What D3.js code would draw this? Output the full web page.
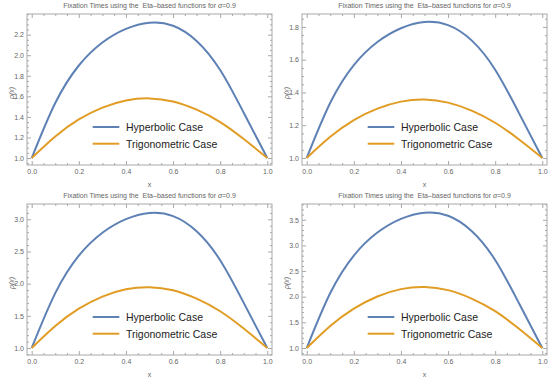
<!DOCTYPE html>
<html>
<head>
<meta charset="utf-8">
<script src="https://cdn.jsdelivr.net/npm/d3@7"></script>
<style>
  body { margin: 0; background: #fff; }
  text { font-family: "Liberation Sans", Arial, sans-serif; }
</style>
</head>
<body>
<svg id="chart" width="550" height="380"></svg>
<script>
// Data
var xVals = [0, 0.1, 0.2, 0.3, 0.4, 0.5, 0.6, 0.7, 0.8, 0.9, 1];

var hyp1 = [1, 1.535, 1.900, 2.124, 2.257, 2.317, 2.287, 2.139, 1.856, 1.440, 1];
var trig1 = [1, 1.210, 1.375, 1.490, 1.560, 1.580, 1.550, 1.470, 1.350, 1.185, 1];

var hyp2 = [1, 1.337, 1.567, 1.708, 1.792, 1.830, 1.811, 1.718, 1.539, 1.277, 1];
var trig2 = [1, 1.129, 1.231, 1.301, 1.344, 1.357, 1.338, 1.289, 1.215, 1.114, 1];

var hyp3 = [1, 1.852, 2.434, 2.790, 3.002, 3.098, 3.050, 2.814, 2.364, 1.701, 1];
var trig3 = [1, 1.342, 1.611, 1.799, 1.913, 1.945, 1.897, 1.766, 1.571, 1.302, 1];

var hyp4 = [1, 2.072, 2.803, 3.251, 3.518, 3.638, 3.578, 3.281, 2.715, 1.881, 1];
var trig4 = [1, 1.431, 1.769, 2.005, 2.148, 2.189, 2.128, 1.964, 1.718, 1.379, 1];

var xTicks = [0, 0.2, 0.4, 0.6, 0.8, 1.0];
var yTicks1 = [1.0, 1.2, 1.4, 1.6, 1.8, 2.0, 2.2];
var yTicks2 = [1.0, 1.2, 1.4, 1.6, 1.8];
var yTicks3 = [1.0, 1.5, 2.0, 2.5, 3.0];
var yTicks4 = [1.0, 1.5, 2.0, 2.5, 3.0, 3.5];

var seriesNames = ["Hyperbolic Case", "Trigonometric Case"];

// Layout / style
var cellW = 275, cellH = 190,
    frame = {left: 27, right: 272, top: 14, bottom: 165},
    colors = ["#5E81B5", "#E19C24"],
    frameColor = "#a8a8a8",
    textColor = "#666666";

var panels = [
  {col: 0, row: 0, hyp: hyp1, trig: trig1, yDomain: [0.932, 2.401], yTicks: yTicks1, minor: 0.05},
  {col: 1, row: 0, hyp: hyp2, trig: trig2, yDomain: [0.957, 1.879], yTicks: yTicks2, minor: 0.05},
  {col: 0, row: 1, hyp: hyp3, trig: trig3, yDomain: [0.891, 3.238], yTicks: yTicks3, minor: 0.1},
  {col: 1, row: 1, hyp: hyp4, trig: trig4, yDomain: [0.864, 3.807], yTicks: yTicks4, minor: 0.1}
];

var svg = d3.select("#chart");

panels.forEach(function(p) {
  var g = svg.append("g")
    .attr("transform", "translate(" + (p.col * cellW) + "," + (p.row * cellH) + ")");

  var x = d3.scaleLinear().domain([-0.02, 1.02]).range([frame.left, frame.right]);
  var y = d3.scaleLinear().domain(p.yDomain).range([frame.bottom, frame.top]);

  var xMinor = d3.range(0, 1.0001, 0.05).filter(function(v) { return Math.abs(v * 5 - Math.round(v * 5)) > 1e-6; });
  var yMinor = d3.range(Math.ceil(p.yDomain[0] / p.minor) * p.minor, p.yDomain[1], p.minor)
    .filter(function(v) { return p.yTicks.every(function(t) { return Math.abs(t - v) > 1e-6; }); });

  // frame
  g.append("rect")
    .attr("x", frame.left).attr("y", frame.top)
    .attr("width", frame.right - frame.left).attr("height", frame.bottom - frame.top)
    .attr("fill", "none").attr("stroke", frameColor).attr("stroke-width", 1);

  function addAxis(axis, tx, ty, labels) {
    var a = g.append("g").attr("transform", "translate(" + tx + "," + ty + ")").call(axis);
    a.select(".domain").remove();
    a.selectAll("line").attr("stroke", frameColor);
    a.selectAll("text").attr("fill", textColor).style("font-size", "7px");
    if (!labels) a.selectAll("text").remove();
    return a;
  }

  // major + minor ticks on all sides, pointing inward
  addAxis(d3.axisBottom(x).tickValues(xTicks).tickSize(-4).tickPadding(4).tickFormat(d3.format(".1f")), 0, frame.bottom, true);
  addAxis(d3.axisBottom(x).tickValues(xMinor).tickSize(-2).tickFormat(""), 0, frame.bottom, false);
  addAxis(d3.axisTop(x).tickValues(xTicks).tickSize(-4), 0, frame.top, false);
  addAxis(d3.axisTop(x).tickValues(xMinor).tickSize(-2), 0, frame.top, false);
  addAxis(d3.axisLeft(y).tickValues(p.yTicks).tickSize(-4).tickPadding(3).tickFormat(d3.format(".1f")), frame.left, 0, true);
  addAxis(d3.axisLeft(y).tickValues(yMinor).tickSize(-2).tickFormat(""), frame.left, 0, false);
  addAxis(d3.axisRight(y).tickValues(p.yTicks).tickSize(-4), frame.right, 0, false);
  addAxis(d3.axisRight(y).tickValues(yMinor).tickSize(-2), frame.right, 0, false);

  // curves
  var line = d3.line()
    .x(function(d, i) { return x(xVals[i]); })
    .y(function(d) { return y(d); })
    .curve(d3.curveNatural);

  [p.hyp, p.trig].forEach(function(s, i) {
    g.append("path")
      .attr("d", line(s))
      .attr("fill", "none")
      .attr("stroke", colors[i])
      .attr("stroke-width", 2);
  });

  // title
  var title = g.append("text")
    .attr("x", (frame.left + frame.right) / 2)
    .attr("y", 8)
    .attr("text-anchor", "middle")
    .attr("fill", textColor)
    .style("font-size", "7px")
    .style("white-space", "pre");
  title.append("tspan").text("Fixation Times using the  Eta\u2013based functions for ");
  title.append("tspan").attr("font-style", "italic").text("\u03b1");
  title.append("tspan").text("=0.9");

  // axis labels
  g.append("text")
    .attr("x", (frame.left + frame.right) / 2)
    .attr("y", 187)
    .attr("text-anchor", "middle")
    .attr("fill", textColor)
    .style("font-size", "7px")
    .text("x");

  g.append("text")
    .attr("transform", "translate(13.5,93) rotate(-90)")
    .attr("text-anchor", "middle")
    .attr("fill", textColor)
    .style("font-size", "7px")
    .style("font-style", "italic")
    .text("\u03c1(x)");

  // legend
  var legend = g.append("g").selectAll("g")
    .data(seriesNames)
    .enter().append("g")
    .attr("transform", function(d, i) { return "translate(0," + (127 + i * 16.7) + ")"; });

  legend.append("line")
    .attr("x1", 92.7).attr("x2", 119.3)
    .attr("stroke", function(d, i) { return colors[i]; })
    .attr("stroke-width", 2);

  legend.append("text")
    .attr("x", 126)
    .attr("y", 3.8)
    .attr("fill", "#222")
    .style("font-size", "10.5px")
    .text(function(d) { return d; });
});
</script>
</body>
</html>
